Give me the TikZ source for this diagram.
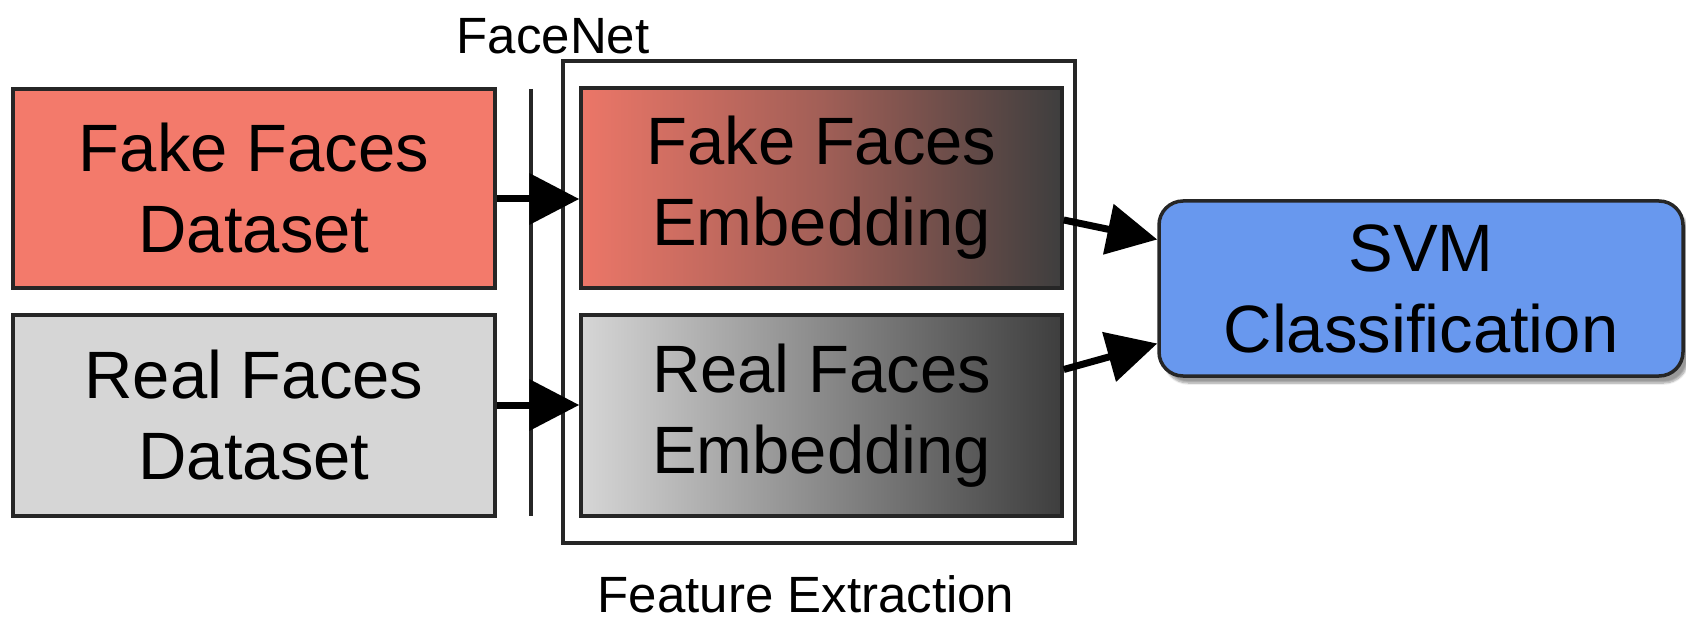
\documentclass[tikz,border=0pt]{standalone}
\usepackage{fontspec}
\setmainfont{Liberation Sans}
\usetikzlibrary{calc,arrows.meta,shadows.blur}
\definecolor{fakecol}{RGB}{243,122,107}
\definecolor{realcol}{RGB}{214,214,214}
\definecolor{darkend}{RGB}{62,62,62}
\definecolor{svmcol}{RGB}{104,152,238}
\begin{document}
\begin{tikzpicture}[x=1pt,y=-1pt,
  box/.style={draw=black!85, line width=3.5pt, align=center, inner sep=0pt,
    font=\fontsize{67}{81}\selectfont},
  lab/.style={font=\fontsize{51}{60}\selectfont, inner sep=0pt},
  bigarrow/.style={line width=7pt, -{Triangle[length=50pt,width=50pt]}}]
\useasboundingbox (0,0) rectangle (1686,620);
% FaceNet separator line
\coordinate (ltop) at (531,89);
\coordinate (lbot) at (531,516);
\draw[line width=3.5pt, black!85] (ltop) -- (lbot);
\node[lab] (facenet) at (553,36) {FaceNet};
% Feature extraction frame
\node[draw=black!85, line width=3.5pt, minimum width=512pt, minimum height=482pt, inner sep=0pt] (frame) at (819,302) {};
\node[lab] (feat) at (806,594) {Feature Extraction};
% datasets
\node[box, fill=fakecol, minimum width=482pt, minimum height=199pt] (fd) at (254,188.5) {Fake Faces\\Dataset};
\node[box, fill=realcol, minimum width=482pt, minimum height=201pt] (rd) at (254,415.5) {Real Faces\\Dataset};
% embeddings
\node[box, left color=fakecol!97!black, right color=darkend, middle color=fakecol!55!darkend, minimum width=481pt, minimum height=200pt] (fe) at (821.5,188) {Fake Faces\\Embedding};
\node[box, left color=realcol, right color=darkend, minimum width=481pt, minimum height=201pt] (re) at (821.5,415.5) {Real Faces\\Embedding};
% SVM
\node[box, fill=svmcol, rounded corners=24pt, minimum width=524pt, minimum height=175pt,
  blur shadow={shadow xshift=5pt, shadow yshift=-7pt, shadow blur steps=8, shadow opacity=40}] (svm) at (1421,288.5) {SVM\\Classification};
% arrows
\draw[bigarrow] (fd.east |- 0,199) -- (fe.west |- 0,199);
\draw[bigarrow] (rd.east |- 0,405) -- (re.west |- 0,405);
\coordinate (s1) at ($(fe.east)+(0,32)$);
\coordinate (s2) at ($(re.east)+(0,-46)$);
\coordinate (t1) at ($(svm.west)+(0,-49)$);
\coordinate (t2) at ($(svm.west)+(0,55)$);
\draw[bigarrow] (s1) -- (t1);
\draw[bigarrow] (s2) -- (t2);
\end{tikzpicture}
\end{document}
